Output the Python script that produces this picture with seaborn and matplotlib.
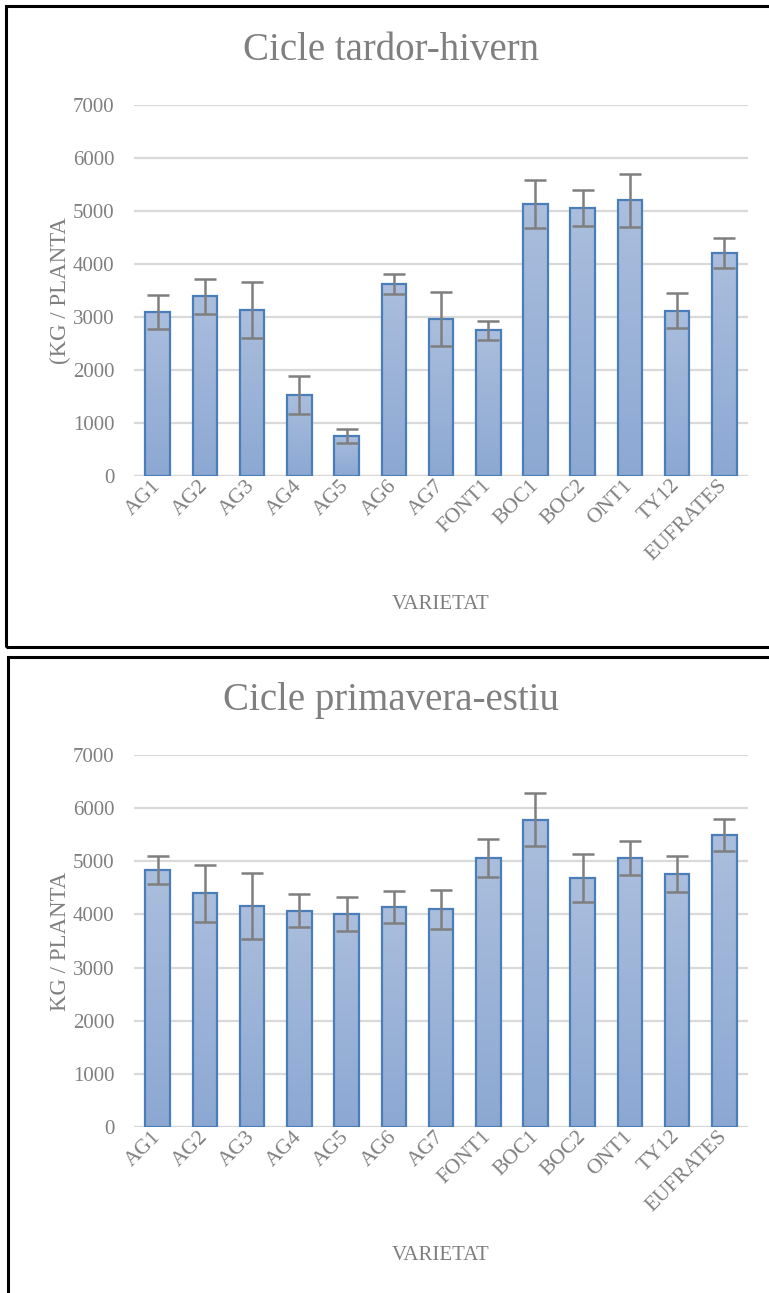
import numpy as np
import pandas as pd
import matplotlib
matplotlib.use("Agg")
import matplotlib.pyplot as plt
from matplotlib.colors import LinearSegmentedColormap
from matplotlib.patches import Rectangle
import seaborn as sns

# varieties on the x axis (same for both cycles)
varieties = ["AG1", "AG2", "AG3", "AG4", "AG5", "AG6", "AG7",
             "FONT1", "BOC1", "BOC2", "ONT1", "TY12", "EUFRATES"]

# autumn-winter cycle (kg / plant) and error
autumn_yield = [3090, 3390, 3130, 1530, 755, 3620, 2960,
                2745, 5135, 5060, 5200, 3115, 4205]
autumn_err = [320, 330, 530, 365, 130, 183, 510,
              185, 450, 340, 495, 330, 283]

# spring-summer cycle (kg / plant) and error
spring_yield = [4830, 4400, 4160, 4065, 4010, 4145, 4100,
                5065, 5785, 4690, 5065, 4755, 5490]
spring_err = [260, 535, 615, 310, 320, 300, 367,
              355, 500, 455, 320, 340, 305]

TEXT_GREY = "#7f7f7f"
GRID_GREY = "#d9d9d9"
EDGE_BLUE = "#4a7ebb"

sns.set_style("white")
plt.rcParams["font.family"] = ["Liberation Serif", "DejaVu Serif"]

grad_cmap = LinearSegmentedColormap.from_list("bar_grad", ["#8ca8d2", "#abbedd"])
grad = np.linspace(0, 1, 256).reshape(-1, 1)


def draw_panel(fig, rect, title, title_y, ylabel, values, errs):
    ax = fig.add_axes(rect)
    df = pd.DataFrame({"Varietat": varieties, "Kg": values})
    sns.barplot(data=df, x="Varietat", y="Kg", color="#9db4d8", width=0.52,
                edgecolor=EDGE_BLUE, linewidth=1.6, errorbar=None, ax=ax)

    # vertical gradient inside each bar, like the spreadsheet style
    for p in ax.patches:
        x0, y0 = p.get_x(), p.get_y()
        w, h = p.get_width(), p.get_height()
        im = ax.imshow(grad, extent=[x0, x0 + w, y0, y0 + h], origin="lower",
                       aspect="auto", cmap=grad_cmap, zorder=1.5)
        im.set_clip_path(p)
        p.set_facecolor("none")
        p.set_zorder(2)

    ax.errorbar(np.arange(len(varieties)), values, yerr=errs, fmt="none",
                ecolor=TEXT_GREY, elinewidth=1.8, capsize=8, capthick=1.8, zorder=3)

    ax.set_xlim(-0.5, len(varieties) - 0.5)
    ax.set_ylim(0, 7000)
    ax.set_yticks(range(0, 7001, 1000))
    ax.yaxis.grid(True, color=GRID_GREY, linewidth=1.6)
    ax.set_axisbelow(True)
    sns.despine(ax=ax, left=True, bottom=True)
    ax.axhline(0, color=GRID_GREY, linewidth=1.6, zorder=1)

    ax.tick_params(axis="y", length=0, labelsize=15, labelcolor=TEXT_GREY, pad=14)
    ax.tick_params(axis="x", length=0, labelsize=15.5, labelcolor=TEXT_GREY, pad=5)
    plt.setp(ax.get_xticklabels(), rotation=45, ha="right", va="center",
             rotation_mode="anchor")

    ax.set_xlabel("VARIETAT", fontsize=15, color=TEXT_GREY)
    ax.xaxis.set_label_coords(0.5, -0.32)
    ax.set_ylabel(ylabel, fontsize=16.5, color=TEXT_GREY)
    ax.yaxis.set_label_coords(-0.103, 0.5)

    fig.text(0.5085, title_y, title, fontsize=28, color=TEXT_GREY,
             ha="center", va="center")
    return ax


fig = plt.figure(figsize=(7.69, 12.93), dpi=100)

draw_panel(fig, [0.1743, 0.6319, 0.7984, 0.2869], "Cicle tardor-hivern", 0.9613,
           "(KG / PLANTA", autumn_yield, autumn_err)
draw_panel(fig, [0.1743, 0.1284, 0.7984, 0.2877], "Cicle primavera-estiu", 0.4586,
           "KG / PLANTA", spring_yield, spring_err)

# black frames around each chart
fig.patches.append(Rectangle((6 / 769, 1 - 647 / 1293), 1.0, (647 - 6) / 1293,
                             transform=fig.transFigure, fill=False,
                             edgecolor="black", linewidth=2.2))
fig.patches.append(Rectangle((8 / 769, -0.05), 1.0, 0.05 + (1293 - 657) / 1293,
                             transform=fig.transFigure, fill=False,
                             edgecolor="black", linewidth=2.2))

fig.savefig("out.png", dpi=100)
